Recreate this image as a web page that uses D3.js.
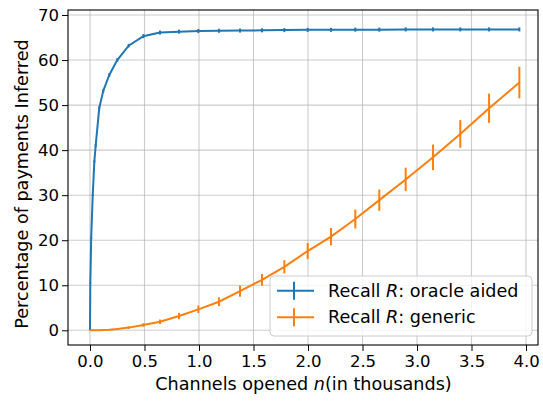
<!DOCTYPE html>
<html><head><meta charset="utf-8">
<script src="https://cdn.jsdelivr.net/npm/d3@7/dist/d3.min.js"></script>
<style>body{margin:0;background:#fff}svg{display:block;font-family:"DejaVu Sans",sans-serif}</style>
</head><body>
<svg id="c" width="543" height="402"></svg>
<script>
// Channels opened (thousands)
const channels = [0, 0.003, 0.011, 0.025, 0.04, 0.052, 0.085, 0.122, 0.177, 0.25, 0.355, 0.489, 0.642, 0.817, 0.994, 1.183, 1.376, 1.578, 1.783, 1.997, 2.211, 2.434, 2.654, 2.896, 3.147, 3.397, 3.661, 3.939];
const oracleAided = [0, 10.5, 20.5, 30, 37.5, 41, 49.4, 53.2, 56.7, 60.0, 63.2, 65.3, 66.1, 66.3, 66.45, 66.5, 66.55, 66.6, 66.65, 66.7, 66.7, 66.75, 66.75, 66.8, 66.8, 66.8, 66.8, 66.8];
const oracleErr = [0, 0.1, 0.15, 0.2, 0.25, 0.3, 0.35, 0.4, 0.4, 0.4, 0.4, 0.45, 0.45, 0.45, 0.45, 0.45, 0.45, 0.45, 0.45, 0.45, 0.45, 0.45, 0.45, 0.45, 0.45, 0.45, 0.45, 0.45];
const generic = [0, 0, 0, 0, 0.01, 0.01, 0.03, 0.07, 0.15, 0.3, 0.6, 1.18, 1.9, 3.17, 4.66, 6.35, 8.7, 11.2, 14.1, 17.6, 20.8, 24.7, 28.9, 33.5, 38.4, 43.6, 49.3, 55.0];
const genericErr = [0, 0, 0, 0, 0, 0.02, 0.05, 0.1, 0.15, 0.2, 0.3, 0.37, 0.5, 0.72, 0.82, 0.98, 1.25, 1.3, 1.48, 1.78, 1.92, 2.1, 2.37, 2.6, 2.85, 3.07, 3.25, 3.5];
const xTicks = [0, 0.5, 1.0, 1.5, 2.0, 2.5, 3.0, 3.5, 4.0];
const yTicks = [0, 10, 20, 30, 40, 50, 60, 70];
const seriesNames = ["oracle aided", "generic"];
const colors = ["#1f77b4", "#ff7f0e"];

const svg = d3.select("#c");
const L = 68, R = 538, T = 10, B = 345;
const x = d3.scaleLinear().domain([-0.2018, 4.110]).range([L, R]);
const y = d3.scaleLinear().domain([-3.26, 71.11]).range([B, T]);

// grid
const g = svg.append("g");
g.selectAll(".gx").data(xTicks).join("line")
  .attr("x1", d => x(d)).attr("x2", d => x(d)).attr("y1", T).attr("y2", B)
  .attr("stroke", "#b0b0b0").attr("stroke-opacity", 0.65).attr("stroke-width", 1.1);
g.selectAll(".gy").data(yTicks).join("line")
  .attr("y1", d => y(d)).attr("y2", d => y(d)).attr("x1", L).attr("x2", R)
  .attr("stroke", "#b0b0b0").attr("stroke-opacity", 0.65).attr("stroke-width", 1.1);

// series
const series = [
  {vals: oracleAided, err: oracleErr},
  {vals: generic, err: genericErr}
];
const line = d3.line().x(d => x(d[0])).y(d => y(d[1]));
const clip = svg.append("clipPath").attr("id", "clp").append("rect")
  .attr("x", L).attr("y", T).attr("width", R - L).attr("height", B - T);
const plot = svg.append("g").attr("clip-path", "url(#clp)");
series.forEach((s, i) => {
  const pts = channels.map((c, j) => [c, s.vals[j], s.err[j]]);
  plot.append("path").datum(pts).attr("d", line)
    .attr("fill", "none").attr("stroke", colors[i]).attr("stroke-width", 2);
  plot.selectAll(".e" + i).data(pts.filter(p => p[2] > 0)).join("line")
    .attr("x1", d => x(d[0])).attr("x2", d => x(d[0]))
    .attr("y1", d => y(d[1] - d[2])).attr("y2", d => y(d[1] + d[2]))
    .attr("stroke", colors[i]).attr("stroke-width", 2);
});

// axes
const xAxis = svg.append("g").attr("transform", `translate(0,${B})`)
  .call(d3.axisBottom(x).tickValues(xTicks).tickFormat(d3.format(".1f")).tickSize(6).tickPadding(4));
const yAxis = svg.append("g").attr("transform", `translate(${L},0)`)
  .call(d3.axisLeft(y).tickValues(yTicks).tickFormat(d3.format("d")).tickSize(6).tickPadding(3));
[xAxis, yAxis].forEach(a => {
  a.select(".domain").remove();
  a.selectAll("text").attr("font-size", "16.5px").attr("fill", "#000").attr("font-family", "DejaVu Sans");
  a.selectAll("line").attr("stroke", "#000").attr("stroke-width", 1);
});
xAxis.selectAll("text").attr("dy", "0.75em");
// frame
svg.append("rect").attr("x", L).attr("y", T).attr("width", R - L).attr("height", B - T)
  .attr("fill", "none").attr("stroke", "#000").attr("stroke-width", 1.1);

// labels
const xl = svg.append("text").attr("x", (L + R) / 2 + 0.5).attr("y", 390).attr("text-anchor", "middle")
  .attr("font-size", "17.6px");
xl.append("tspan").text("Channels opened ");
xl.append("tspan").attr("font-style", "italic").text("n");
xl.append("tspan").text("(in thousands)");
svg.append("text").attr("transform", `translate(28,184) rotate(-90)`).attr("text-anchor", "middle")
  .attr("font-size", "17.6px").text("Percentage of payments Inferred");

// legend
const lg = svg.append("g");
lg.append("rect").attr("x", 270).attr("y", 276).attr("width", 262).attr("height", 60).attr("rx", 4)
  .attr("fill", "#fff").attr("fill-opacity", 0.8).attr("stroke", "#cccccc").attr("stroke-width", 1);
seriesNames.forEach((n, i) => {
  const cy = 290.7 + i * 26.6;
  lg.append("line").attr("x1", 277).attr("x2", 314).attr("y1", cy).attr("y2", cy)
    .attr("stroke", colors[i]).attr("stroke-width", 2);
  lg.append("line").attr("x1", 294).attr("x2", 294).attr("y1", cy - 9).attr("y2", cy + 9)
    .attr("stroke", colors[i]).attr("stroke-width", 2);
  const t = lg.append("text").attr("x", 328).attr("y", cy + 6).attr("font-size", "17.6px");
  t.append("tspan").text("Recall ");
  t.append("tspan").attr("font-style", "italic").text("R");
  t.append("tspan").text(": " + n);
});
</script>
</body></html>
